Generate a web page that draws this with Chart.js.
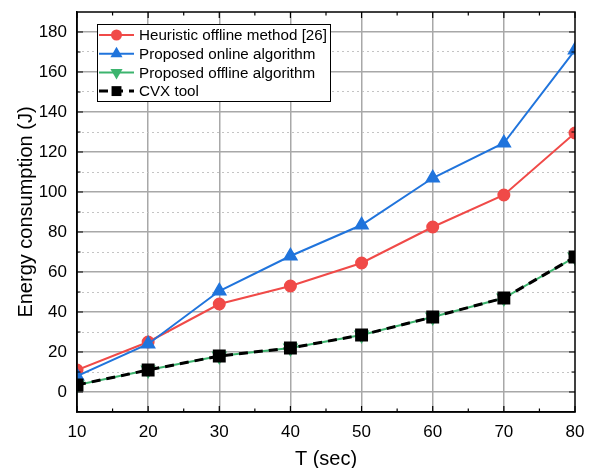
<!DOCTYPE html>
<html>
<head>
<meta charset="utf-8">
<script src="https://cdn.jsdelivr.net/npm/chart.js@4.4.1/dist/chart.umd.min.js"></script>
<style>
  html, body { margin: 0; padding: 0; background: #fff; }
  #wrap { width: 593px; height: 468px; }
</style>
</head>
<body>
<div id="wrap"><canvas id="chart" width="593" height="468"></canvas></div>
<script>
// data
const times = [10, 20, 30, 40, 50, 60, 70, 80];
const heuristicOffline = [11, 25, 44, 53, 64.5, 82.5, 98.5, 129.5];
const proposedOnline = [8, 24, 50.5, 68, 83.5, 107, 124.5, 171];
const proposedOffline = [3.5, 11, 18, 22, 28.5, 37.5, 47, 67.5];
const cvxTool = [3.5, 11, 18, 22, 28.5, 37.5, 47, 67.5];

const xTicks = [10, 20, 30, 40, 50, 60, 70, 80];
const yTicks = [0, 20, 40, 60, 80, 100, 120, 140, 160, 180];
const yMinorTicks = [10, 30, 50, 70, 90, 110, 130, 150, 170];

const FONT = "'Liberation Sans', Arial, sans-serif";
const toPoints = ys => ys.map((y, i) => ({ x: times[i], y: y }));

function drawMarker(ctx, style, x, y, r, rot, color) {
  ctx.save();
  ctx.fillStyle = color;
  ctx.beginPath();
  if (style === "circle") {
    ctx.arc(x, y, r, 0, Math.PI * 2);
  } else if (style === "rect") {
    const s = r * Math.SQRT1_2;
    ctx.rect(x - s, y - s, 2 * s, 2 * s);
  } else if (style === "triangle") {
    let a = (rot || 0) * Math.PI / 180;
    for (let k = 0; k < 3; k++) {
      const px = x + Math.sin(a) * r, py = y - Math.cos(a) * r;
      k === 0 ? ctx.moveTo(px, py) : ctx.lineTo(px, py);
      a += 2 * Math.PI / 3;
    }
    ctx.closePath();
  }
  ctx.fill();
  ctx.restore();
}

// frame on top/right and inward tick marks
const framePlugin = {
  id: "frame",
  afterDraw(chart) {
    const { ctx, chartArea: a, scales } = chart;
    const xs = scales.x, ys = scales.y;
    ctx.save();
    ctx.strokeStyle = "#000";
    ctx.lineWidth = 1.5;
    ctx.strokeRect(a.left, a.top, a.right - a.left, a.bottom - a.top);
    ctx.lineWidth = 1.2;
    ctx.beginPath();
    for (let v = 10; v <= 80; v += 5) {
      const px = xs.getPixelForValue(v);
      const len = v % 10 === 0 ? 6 : 3.5;
      ctx.moveTo(px, a.bottom); ctx.lineTo(px, a.bottom - len);
      ctx.moveTo(px, a.top); ctx.lineTo(px, a.top + len);
    }
    for (let v = 0; v <= 180; v += 10) {
      const py = ys.getPixelForValue(v);
      const len = v % 20 === 0 ? 6 : 3.5;
      ctx.moveTo(a.left, py); ctx.lineTo(a.left + len, py);
      ctx.moveTo(a.right, py); ctx.lineTo(a.right - len, py);
    }
    ctx.stroke();
    ctx.restore();
  }
};

// legend box drawn inside the plot area
const boxLegend = {
  id: "boxLegend",
  afterDraw(chart) {
    const ctx = chart.ctx;
    const x0 = 97, y0 = 24, w = 233, h = 77, rowH = 18.7;
    ctx.save();
    ctx.fillStyle = "#fff";
    ctx.fillRect(x0, y0, w, h);
    ctx.strokeStyle = "#000";
    ctx.lineWidth = 1;
    ctx.strokeRect(x0 + 0.5, y0 + 0.5, w, h);
    chart.data.datasets.forEach((ds, i) => {
      const cy = y0 + 11 + i * rowH;
      ctx.strokeStyle = ds.borderColor;
      ctx.lineWidth = ds.borderWidth;
      ctx.setLineDash(ds.borderDash || []);
      ctx.beginPath();
      ctx.moveTo(x0 + 2, cy); ctx.lineTo(x0 + 37, cy);
      ctx.stroke();
      ctx.setLineDash([]);
      drawMarker(ctx, ds.pointStyle, x0 + 19.5, cy, ds.pointRadius, ds.rotation, ds.pointBackgroundColor);
      ctx.fillStyle = "#000";
      ctx.font = "15.2px " + FONT;
      ctx.textBaseline = "middle";
      ctx.fillText(ds.label, x0 + 42, cy + 1);
    });
    ctx.restore();
  }
};

new Chart(document.getElementById("chart"), {
  type: "line",
  data: {
    datasets: [
      {
        label: "Heuristic offline method [26]",
        data: toPoints(heuristicOffline),
        borderColor: "#f04a48", pointBackgroundColor: "#f04a48", pointBorderColor: "#f04a48",
        borderWidth: 2, pointStyle: "circle", pointRadius: 5.5, order: 4
      },
      {
        label: "Proposed online algorithm",
        data: toPoints(proposedOnline),
        borderColor: "#2074dc", pointBackgroundColor: "#2074dc", pointBorderColor: "#2074dc",
        borderWidth: 2, pointStyle: "triangle", pointRadius: 7, order: 3
      },
      {
        label: "Proposed offline algorithm",
        data: toPoints(proposedOffline),
        borderColor: "#3cb46e", pointBackgroundColor: "#3cb46e", pointBorderColor: "#3cb46e",
        borderWidth: 2, pointStyle: "triangle", rotation: 180, pointRadius: 7, order: 2
      },
      {
        label: "CVX tool",
        data: toPoints(cvxTool),
        borderColor: "#000", pointBackgroundColor: "#000", pointBorderColor: "#000",
        borderWidth: 3, borderDash: [9, 6], pointStyle: "rect", pointRadius: 7, order: 1
      }
    ]
  },
  options: {
    responsive: false,
    animation: false,
    layout: { padding: { top: 12, right: 18, left: 0, bottom: 0 } },
    plugins: { legend: { display: false }, tooltip: { enabled: false } },
    elements: { line: { tension: 0 }, point: { borderWidth: 1 } },
    scales: {
      x: {
        type: "linear", min: 10, max: 80,
        afterBuildTicks: s => { s.ticks = xTicks.map(v => ({ value: v })); },
        afterFit: s => { s.height = 56; s.paddingLeft = 0; s.paddingRight = 0; },
        ticks: { color: "#000", font: { size: 17, family: FONT }, padding: 10, maxRotation: 0 },
        grid: {
          drawTicks: false, lineWidth: 1.5,
          color: c => (c.tick && (c.tick.value === 10 || c.tick.value === 80)) ? "rgba(0,0,0,0)" : "#a8a8a8"
        },
        border: { color: "#000", width: 1.5 },
        title: { display: true, text: "T (sec)", color: "#000", font: { size: 20, family: FONT }, padding: { top: 4, bottom: -3 } }
      },
      y: {
        min: -10, max: 190,
        afterBuildTicks: s => { s.ticks = yTicks.map(v => ({ value: v })); },
        afterFit: s => { s.width = 77; s.paddingTop = 0; s.paddingBottom = 0; },
        ticks: { color: "#000", font: { size: 17, family: FONT }, padding: 10 },
        grid: { drawTicks: false, lineWidth: 1.5, color: "#a8a8a8" },
        border: { color: "#000", width: 1.5 },
        title: { display: true, text: "Energy consumption (J)", color: "#000", font: { size: 20, family: FONT }, padding: { top: 14, bottom: 0 } }
      },
      yMinor: {
        position: "right", min: -10, max: 190,
        afterBuildTicks: s => { s.ticks = yMinorTicks.map(v => ({ value: v })); },
        afterFit: s => { s.width = 0; s.paddingTop = 0; s.paddingBottom = 0; },
        ticks: { display: false },
        grid: { drawTicks: false, lineWidth: 1, color: "#c4c4c4" },
        border: { display: false, dash: [2, 3] }
      }
    }
  },
  plugins: [framePlugin, boxLegend]
});
</script>
</body>
</html>
